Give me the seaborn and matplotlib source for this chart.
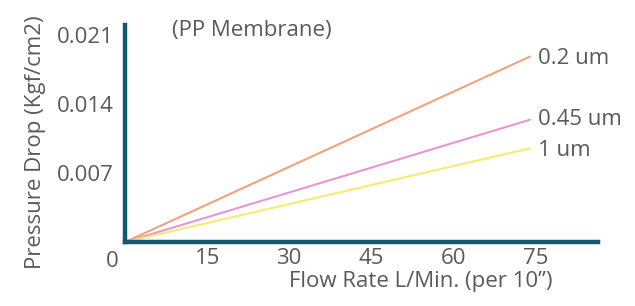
import matplotlib
matplotlib.use("Agg")
import matplotlib.pyplot as plt
import seaborn as sns
import pandas as pd

# flow rate (L/min per 10") and pressure drop (kgf/cm2) for each pore size
flow_rate = [0, 74]
drop_02 = [0, 0.0188]
drop_045 = [0, 0.0124]
drop_1 = [0, 0.0095]
series_names = ["0.2 um", "0.45 um", "1 um"]
series_colors = ["#f2a27c", "#e896cf", "#f3ec70"]

x_ticks = [0, 15, 30, 45, 60, 75]
y_ticks = [0.007, 0.014, 0.021]
y_tick_labels = ["0.007", "0.014", "0.021"]

df = pd.DataFrame({
    "flow": flow_rate * 3,
    "drop": drop_02 + drop_045 + drop_1,
    "size": [series_names[0]] * 2 + [series_names[1]] * 2 + [series_names[2]] * 2,
})

sns.set_theme(style="white")
plt.rcParams["font.family"] = ["Open Sans", "DejaVu Sans"]

text_col = "#5a5a5a"
axis_col = "#135772"
fs = 16

fig = plt.figure(figsize=(6.35, 3.06), dpi=100, facecolor="white")
ax = fig.add_axes([0.197, 0.209, 0.745, 0.709])

sns.lineplot(ax=ax, data=df, x="flow", y="drop", hue="size",
             palette=dict(zip(series_names, series_colors)), linewidth=1.5, legend=False)

ax.set_xlim(0, 86.5)
ax.set_ylim(0, 0.022)

for side in ["top", "right"]:
    ax.spines[side].set_visible(False)
for side in ["left", "bottom"]:
    ax.spines[side].set_color(axis_col)
    ax.spines[side].set_linewidth(3.2)

ax.set_xticks(x_ticks)
ax.set_xticklabels([""] + [str(t) for t in x_ticks[1:]])
ax.set_yticks(y_ticks)
ax.set_yticklabels(y_tick_labels)
ax.tick_params(axis="both", length=0, labelsize=fs, labelcolor=text_col)
ax.tick_params(axis="x", pad=4)
ax.tick_params(axis="y", pad=8)

# the "0" sits at the corner, left of the origin
ax.text(-0.028, -0.04, "0", transform=ax.transAxes, ha="center", va="top",
        fontsize=fs, color=text_col)

ax.set_xlabel("Flow Rate L/Min. (per 10\u201d)", fontsize=fs, color=text_col)
ax.xaxis.set_label_coords(0.624, -0.135)
ax.set_ylabel("Pressure Drop (Kgf/cm2)", fontsize=fs, color=text_col)
ax.yaxis.set_label_coords(-0.168, 0.46)

ax.text(0.1, 0.975, "(PP Membrane)", transform=ax.transAxes, ha="left", va="center",
        fontsize=fs, color=text_col)

ends = [drop_02[-1], drop_045[-1], drop_1[-1]]
offsets = [-0.0002, 0.0, -0.0002]
for name, y, dy in zip(series_names, ends, offsets):
    ax.text(flow_rate[-1] + 1.5, y + dy, name, ha="left", va="center",
            fontsize=fs, color=text_col)

ax.grid(False)
fig.savefig("out.png", dpi=100, facecolor="white")
